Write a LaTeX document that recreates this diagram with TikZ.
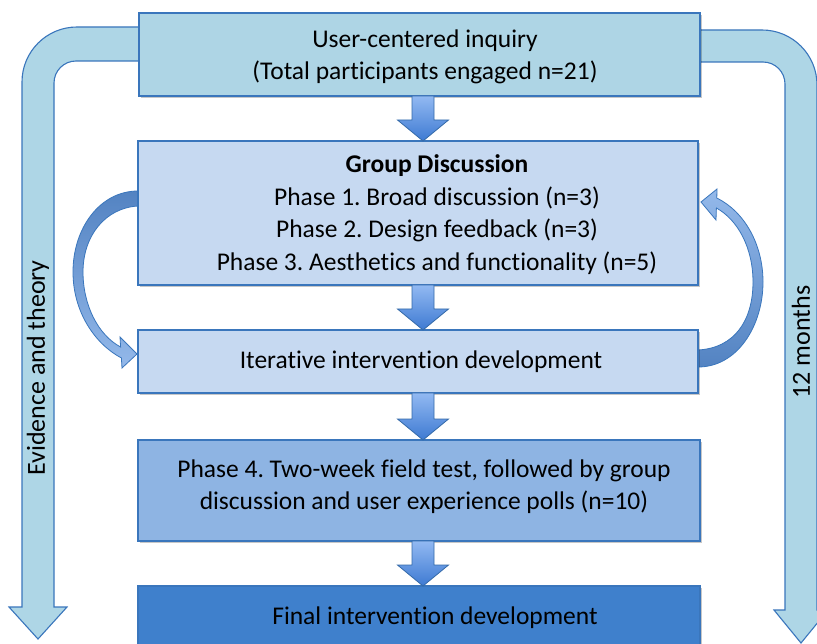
\documentclass[tikz,border=0pt]{standalone}
\usepackage{fontspec}
\setmainfont{Carlito}[Ligatures=NoCommon]
\frenchspacing
\usetikzlibrary{calc,shadows}

\definecolor{edgeblue}{HTML}{3A76BC}
\definecolor{sideblue}{HTML}{AED6E6}
\definecolor{topfill}{HTML}{AED5E5}
\definecolor{paleblue}{HTML}{C6D9F1}
\definecolor{midblue}{HTML}{8EB4E3}
\definecolor{deepblue}{HTML}{3F80CC}
\definecolor{arrtop}{HTML}{92B9F2}
\definecolor{arrbot}{HTML}{3E7AD2}
\definecolor{curvdark}{HTML}{5383C2}
\definecolor{curvlight}{HTML}{94B9EA}

\tikzset{
  box/.style={draw=edgeblue, line width=1.2pt, inner sep=0pt, outer sep=0pt,
    drop shadow={shadow xshift=1.6pt, shadow yshift=-1.8pt, opacity=0.22, fill=black}},
  txt/.style={font=\fontsize{25.5}{32.5}\selectfont, align=center, inner sep=0pt, text=black},
  sidetxt/.style={txt, font=\fontsize{26}{32}\selectfont, rotate=90},
  sidearrow/.style={draw=edgeblue, line width=1.1pt, fill=sideblue, line join=miter},
  smallarrow/.style={draw=edgeblue!90!black, line width=0.8pt, top color=arrtop, bottom color=arrbot},
  curvarrow/.style={draw=edgeblue, line width=0.8pt},
  pics/dnarrow/.style={code={
    \draw[smallarrow] (-11,0) -- (11,0) -- (11,{#1-21}) -- (25.5,{#1-21})
      -- (0,#1) -- (-25.5,{#1-21}) -- (-11,{#1-21}) -- cycle;}}
}

\begin{document}
\begin{tikzpicture}[x=1pt,y=-1pt]
\useasboundingbox[fill=white] (0,0) rectangle (817,644);

% side arrows: evidence (left) and time span (right)
\draw[sidearrow] (139,27) -- (77,27) .. controls (46.6,27) and (22,51.6) .. (22,82)
  -- (22,607) -- (9,607) -- (38,639) -- (67,607) -- (54,607) -- (54,83)
  .. controls (54,70.85) and (63.85,61) .. (76,61) -- (139,61) -- cycle;
\draw[sidearrow] (700,30) -- (762,30) .. controls (792.4,30) and (817,54.6) .. (817,85)
  -- (817,610) -- (828,610) -- (801,643) -- (774,610) -- (785,610) -- (785,84)
  .. controls (785,71.85) and (775.15,62) .. (763,62) -- (700,62) -- cycle;

\node[sidetxt] (ev) at (38,368) {Evidence and theory};
\node[sidetxt] (mo) at (801,342) {12 months};

% iteration loop arrows
\draw[curvarrow, top color=curvdark, bottom color=curvlight]
  (138,191) .. controls (100,191) and (73,228) .. (73,272)
  .. controls (73,312) and (95,344) .. (121.4,358) -- (122,368) -- (137,354)
  -- (120,337) -- (120.6,347) .. controls (98,335) and (83,305) .. (83,272)
  .. controls (83,236) and (105,208) .. (138,206) -- cycle;
\draw[curvarrow, top color=curvlight, bottom color=curvdark]
  (698,367) .. controls (738,367) and (763,325) .. (763,282)
  .. controls (763,245) and (745,212) .. (716.8,198) -- (717,189) -- (701,202)
  -- (716,220) -- (716.4,208) .. controls (738,220) and (753,248) .. (753,282)
  .. controls (753,320) and (735,348) .. (698,350) -- cycle;

% stages
\node[box, fill=topfill,  minimum width=561, minimum height=83]  (b1) at (419.5,54.5) {};
\node[box, fill=paleblue, minimum width=560, minimum height=144] (b2) at (418,213) {};
\node[box, fill=paleblue, minimum width=560, minimum height=63]  (b3) at (418,361.5) {};
\node[box, fill=midblue,  minimum width=562, minimum height=101] (b4) at (419,490.5) {};
\node[box, fill=deepblue, minimum width=562, minimum height=68]  (b5) at (419,620) {};

\node[txt] (t1) at (425,57) {User-centered inquiry\\(Total participants engaged n=21)};
\node[txt] (t2) at (437,214.5) {\textbf{Group Discussion}\\Phase 1. Broad discussion (n=3)\\
  Phase 2. Design feedback (n=3)\\Phase 3. Aesthetics and functionality (n=5)};
\node[txt] (t3) at (421,361.5) {Iterative intervention development};
\node[txt] (t4) at (424,486.5) {Phase 4. Two-week field test, followed by group\\
  discussion and user experience polls (n=10)};
\node[txt] (t5) at (435,617.5) {Final intervention development};

% flow arrows between stages
\coordinate (ax) at (423,0);
\pic at (b1.south -| ax) {dnarrow=45};
\pic at (b2.south -| ax) {dnarrow=45};
\pic at (b3.south -| ax) {dnarrow=47};
\pic at (b4.south -| ax) {dnarrow=45};
\end{tikzpicture}
\end{document}
